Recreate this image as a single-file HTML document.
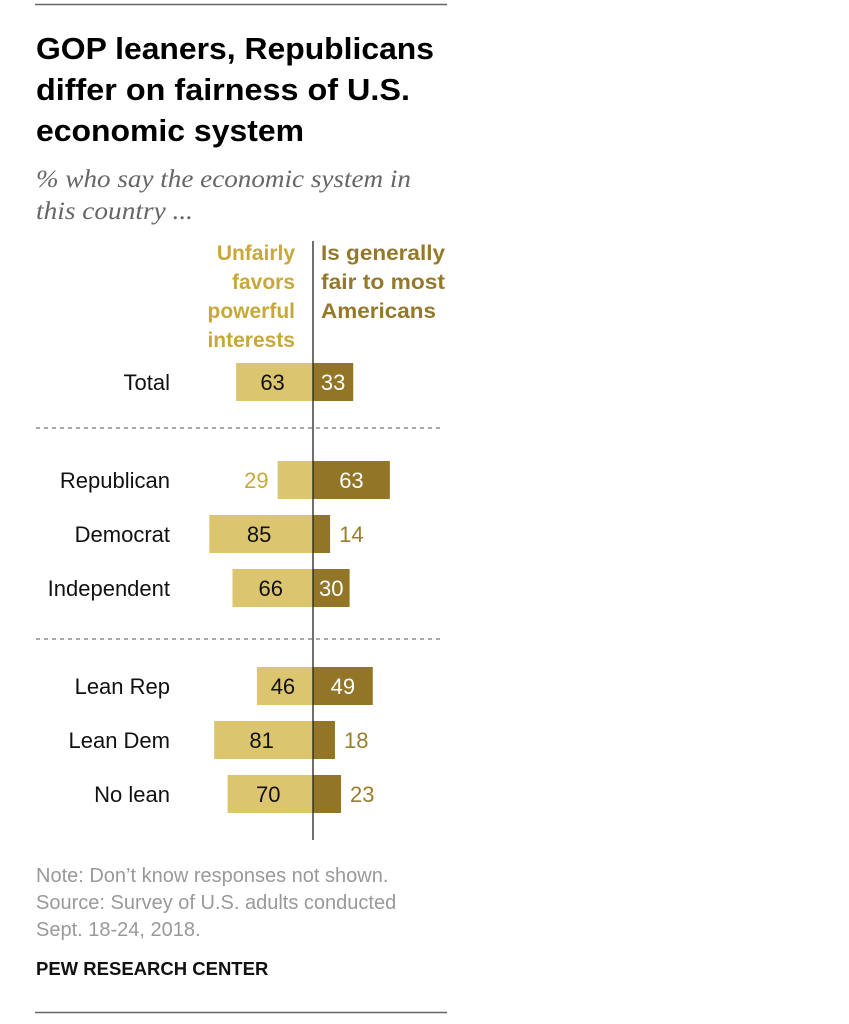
<!DOCTYPE html>
<html><head><meta charset="utf-8"><style>
body{margin:0;background:#fff;width:849px;height:1024px;overflow:hidden}
svg{display:block}
</style></head><body>
<svg id="chart" width="849" height="1024" xmlns="http://www.w3.org/2000/svg" font-family="Liberation Sans, sans-serif">
<line x1="35" y1="4.5" x2="447" y2="4.5" stroke="#666" stroke-width="1.5"/>
<g font-size="31" font-weight="bold" fill="#000">
<text x="36" y="59" textLength="398" lengthAdjust="spacingAndGlyphs">GOP leaners, Republicans</text>
<text x="36" y="100" textLength="374" lengthAdjust="spacingAndGlyphs">differ on fairness of U.S.</text>
<text x="36" y="141" textLength="268" lengthAdjust="spacingAndGlyphs">economic system</text>
</g>
<g font-family="Liberation Serif, serif" font-style="italic" font-size="25" fill="#666">
<text x="36" y="187" textLength="375" lengthAdjust="spacingAndGlyphs">% who say the economic system in</text>
<text x="36" y="219" textLength="157" lengthAdjust="spacingAndGlyphs">this country ...</text>
</g>
<g font-size="21" font-weight="bold" fill="#c8a838" text-anchor="end">
<text x="295" y="260">Unfairly</text><text x="295" y="289">favors</text><text x="295" y="318">powerful</text><text x="295" y="347">interests</text>
</g>
<g font-size="21" font-weight="bold" fill="#94792b">
<text x="321" y="260" textLength="124" lengthAdjust="spacingAndGlyphs">Is generally</text><text x="321" y="289" textLength="124" lengthAdjust="spacingAndGlyphs">fair to most</text><text x="321" y="318" textLength="115" lengthAdjust="spacingAndGlyphs">Americans</text>
</g>
<line x1="36" y1="428" x2="440" y2="428" stroke="#777" stroke-dasharray="4,4" stroke-width="1.3"/>
<line x1="36" y1="639" x2="440" y2="639" stroke="#777" stroke-dasharray="4,4" stroke-width="1.3"/>
<g id="bars"></g>
<line x1="313" y1="241" x2="313" y2="840" stroke="#222" stroke-width="1.3"/>
<g font-size="20" fill="#999">
<text x="36" y="882">Note: Don’t know responses not shown.</text>
<text x="36" y="909">Source: Survey of U.S. adults conducted</text>
<text x="36" y="936">Sept. 18-24, 2018.</text>
</g>
<text x="36" y="975" font-size="18.5" font-weight="bold" fill="#111">PEW RESEARCH CENTER</text>
<line x1="35" y1="1012.5" x2="447" y2="1012.5" stroke="#666" stroke-width="1.5"/>
</svg>
<script>
const categories = ["Total","Republican","Democrat","Independent","Lean Rep","Lean Dem","No lean"];
const unfairValues = [63,29,85,66,46,81,70];
const fairValues = [33,63,14,30,49,18,23];
const rowCenters = [382,480,534,588,686,740,794];
const zeroX = 313, pxPer = 1.22, barH = 38;
const xLeft = v => zeroX - v*pxPer;
const xRight = v => zeroX + v*pxPer;
const g = document.getElementById('bars');
const NS = 'http://www.w3.org/2000/svg';
function mk(tag, attrs, txt){const e=document.createElementNS(NS,tag);for(const k in attrs)e.setAttribute(k,attrs[k]);if(txt!==undefined)e.textContent=txt;g.appendChild(e);return e;}
categories.forEach((c,i)=>{
  const cy = rowCenters[i];
  const lab = mk('text',{x:170,y:cy+8,'font-size':22,'text-anchor':'end',fill:'#111'},c);
  
  
  const u = unfairValues[i], f = fairValues[i];
  const r1 = mk('rect',{x:xLeft(u),y:cy-barH/2,width:zeroX-xLeft(u),height:barH,fill:'#dcc56f'});
  
  
  const r2 = mk('rect',{x:zeroX,y:cy-barH/2,width:xRight(f)-zeroX,height:barH,fill:'#927526'});
  
  
  let t1;
  if(u>=30) t1 = mk('text',{x:(xLeft(u)+zeroX)/2-2,y:cy+8,'font-size':22,'text-anchor':'middle',fill:'#111'},u);
  else t1 = mk('text',{x:xLeft(u)-9,y:cy+8,'font-size':22,'text-anchor':'end',fill:'#c9a93a'},u);
  
  
  let t2;
  if(f>=30) t2 = mk('text',{x:(xRight(f)+zeroX)/2,y:cy+8,'font-size':22,'text-anchor':'middle',fill:'#fff'},f);
  else t2 = mk('text',{x:xRight(f)+9,y:cy+8,'font-size':22,'text-anchor':'start',fill:'#9a7e2e'},f);
  
  
});
</script>
</body></html>
